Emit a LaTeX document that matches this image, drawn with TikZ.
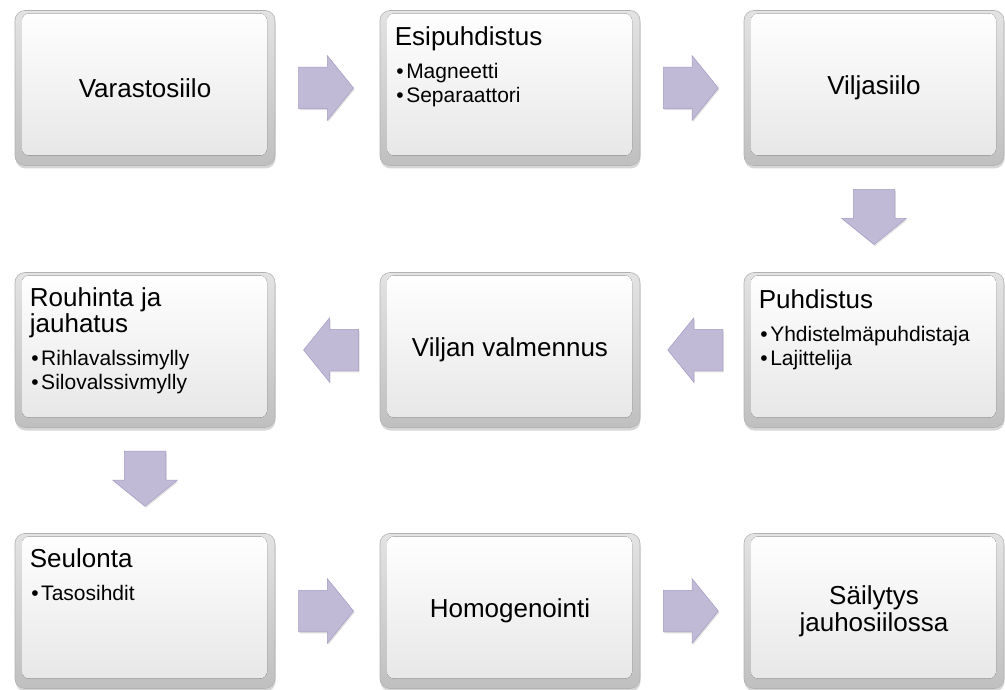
\documentclass[tikz,border=0pt]{standalone}
\usepackage{fontspec}
\setmainfont{Liberation Sans}
\usepackage{xcolor}
\usetikzlibrary{shapes.arrows,shadows,calc}

\definecolor{arrfill}{RGB}{193,186,215}
\definecolor{arredge}{RGB}{165,155,195}
\newcommand{\bitem}[1]{\hspace*{1.5pt}\textbullet\hspace{2.5pt}#1}

\begin{document}
\begin{tikzpicture}[
    x=1pt, y=-1pt,
    box/.style={rectangle, rounded corners=10pt, minimum width=260, minimum height=155, inner sep=0,
        draw=gray!60, line width=0.6pt, top color=gray!22, bottom color=gray!50,
        drop shadow={shadow xshift=0.5pt, shadow yshift=-3pt, opacity=0.4, fill=gray!80},
        path picture={\fill[top color=white, bottom color=gray!20, rounded corners=7pt]
            ([shift={(7pt,-3pt)}]path picture bounding box.north west) rectangle
            ([shift={(-8pt,10pt)}]path picture bounding box.south east);}},
    title/.style={font=\fontsize{26}{27}\selectfont, align=center, inner sep=0},
    lst/.style={text width=245, inner sep=0, anchor=base west, align=flush left},
    arr/.style={single arrow, draw=arredge, line width=0.5pt, fill=arrfill, minimum height=55,
        inner xsep=0, inner ysep=20.5, single arrow head extend=11.5, single arrow tip angle=102,
        anchor=tail, drop shadow={shadow xshift=1pt, shadow yshift=-1.5pt, opacity=0.25}},
]
    \useasboundingbox (0,0) rectangle (1005,690);

    % top row
    \node[box] (p1) at (145,88) {};
    \node[box] (p2) at (510,88) {};
    \node[box] (p3) at (874,88) {};
    \node[title] (l1) at (p1) {Varastosiilo};
    \node[lst] (l2) at ([shift={(15,35)}]p2.north west) {%
        {\fontsize{26}{27}\selectfont Esipuhdistus\par}\vspace{9pt}%
        {\fontsize{21}{24}\selectfont \bitem{Magneetti}\par\bitem{Separaattori}\par}};
    \node[title] (l3) at (p3) {Viljasiilo};

    % middle row (right to left)
    \node[box] (p4) at (874,350) {};
    \node[box] (p5) at (510,350) {};
    \node[box] (p6) at (145,350) {};
    \node[lst] (l4) at ([shift={(15,36)}]p4.north west) {%
        {\fontsize{26}{27}\selectfont Puhdistus\par}\vspace{9pt}%
        {\fontsize{21}{24}\selectfont \bitem{Yhdistelmäpuhdistaja}\par\bitem{Lajittelija}\par}};
    \node[title] (l5) at (p5) {Viljan valmennus};
    \node[lst] (l6) at ([shift={(15,34)}]p6.north west) {%
        {\fontsize{26}{26.5}\selectfont Rouhinta ja\\jauhatus\par}\vspace{9pt}%
        {\fontsize{21}{24}\selectfont \bitem{Rihlavalssimylly}\par\bitem{Silovalssivmylly}\par}};

    % bottom row
    \node[box] (p7) at (145,611) {};
    \node[box] (p8) at (510,611) {};
    \node[box] (p9) at (874,611) {};
    \node[lst] (l7) at ([shift={(15,34)}]p7.north west) {%
        {\fontsize{26}{27}\selectfont Seulonta\par}\vspace{9pt}%
        {\fontsize{21}{24}\selectfont \bitem{Tasosihdit}\par}};
    \node[title] (l8) at (p8) {Homogenointi};
    \node[title] (l9) at (p9) {Säilytys\\jauhosiilossa};

    % block arrows
    \node[arr] (a12) at ($(p1.east)!0.22!(p2.west)$) {};
    \node[arr] (a23) at ($(p2.east)!0.22!(p3.west)$) {};
    \node[arr, rotate=-90] (a34) at ($(p3.south)!0.22!(p4.north)$) {};
    \node[arr, rotate=180] (a45) at ($(p4.west)!0.2!(p5.east)$) {};
    \node[arr, rotate=180] (a56) at ($(p5.west)!0.2!(p6.east)$) {};
    \node[arr, rotate=-90] (a67) at ($(p6.south)!0.22!(p7.north)$) {};
    \node[arr] (a78) at ($(p7.east)!0.22!(p8.west)$) {};
    \node[arr] (a89) at ($(p8.east)!0.22!(p9.west)$) {};
\end{tikzpicture}
\end{document}
